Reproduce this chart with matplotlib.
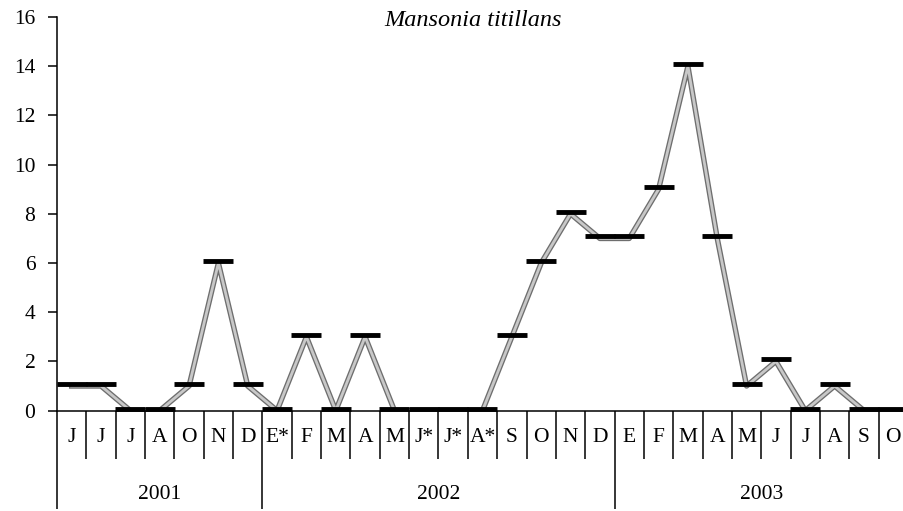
import matplotlib.pyplot as plt
import matplotlib.patheffects as pe
from matplotlib.ticker import FixedLocator
from matplotlib.transforms import ScaledTranslation

# meses por ano (E = enero)
meses_2001 = ['J', 'J', 'J', 'A', 'O', 'N', 'D']
meses_2002 = ['E*', 'F', 'M', 'A', 'M', 'J*', 'J*', 'A*', 'S', 'O', 'N', 'D']
meses_2003 = ['E', 'F', 'M', 'A', 'M', 'J', 'J', 'A', 'S', 'O']
anos = ['2001', '2002', '2003']

valores_2001 = [1, 1, 0, 0, 1, 6, 1]
valores_2002 = [0, 3, 0, 3, 0, 0, 0, 0, 3, 6, 8, 7]
valores_2003 = [7, 9, 14, 7, 1, 2, 0, 1, 0, 0]

titulo = 'Mansonia titillans'


def main():
    plt.rcParams['font.family'] = ['Liberation Serif', 'DejaVu Serif']

    meses = meses_2001 + meses_2002 + meses_2003
    valores = valores_2001 + valores_2002 + valores_2003
    grupos = [meses_2001, meses_2002, meses_2003]
    n = len(meses)
    x = [i + 0.5 for i in range(n)]

    fig = plt.figure(figsize=(9.04, 5.11), dpi=100)
    ax = fig.add_axes([57 / 904, 0.1965, (908 - 57) / 904, 0.770])

    # linha cinza grossa com contorno escuro
    ax.plot(x, valores, color='#c8c8c8', linewidth=2.0, solid_joinstyle='round',
            path_effects=[pe.Stroke(linewidth=3.9, foreground='#6e6e6e'), pe.Normal()],
            zorder=2)
    # marcadores (tracos pretos) um pouco acima do ponto, como no original
    desloc = ax.transData + ScaledTranslation(0, 1.5 / 72, fig.dpi_scale_trans)
    ax.plot(x, valores, linestyle='none', marker='_', markersize=22,
            markeredgewidth=3.5, color='black', zorder=3, transform=desloc)

    ax.set_xlim(0, n)
    ax.set_ylim(0, 16)
    ax.set_yticks(range(0, 17, 2))
    ax.tick_params(axis='y', direction='out', length=6.5, width=1.1,
                   labelsize=15.5, pad=9)

    # divisoes de ano (maiores) e de mes (menores)
    limites = [0]
    for g in grupos:
        limites.append(limites[-1] + len(g))
    ax.xaxis.set_major_locator(FixedLocator(limites))
    ax.xaxis.set_minor_locator(FixedLocator([i for i in range(n + 1) if i not in limites]))
    ax.tick_params(axis='x', which='major', direction='out', length=70.5, width=1.1,
                   labelbottom=False)
    ax.tick_params(axis='x', which='minor', direction='out', length=34.6, width=1.1,
                   labelbottom=False)

    for s in ['top', 'right']:
        ax.spines[s].set_visible(False)
    for s in ['left', 'bottom']:
        ax.spines[s].set_linewidth(1.1)

    trans = ax.get_xaxis_transform()
    for xi, m in zip(x, meses):
        ax.text(xi, -0.068, m, transform=trans, ha='center', va='center',
                fontsize=15.5)
    for i, ano in enumerate(anos):
        ax.text((limites[i] + limites[i + 1]) / 2, -0.214, ano, transform=trans,
                ha='center', va='center', fontsize=15.5)

    fig.text(473.5 / 904, 1 - 21 / 511, titulo, ha='center', va='center',
             fontsize=17.5, style='italic')

    plt.savefig('out.png', dpi=100)


if __name__ == "__main__":
    main()
